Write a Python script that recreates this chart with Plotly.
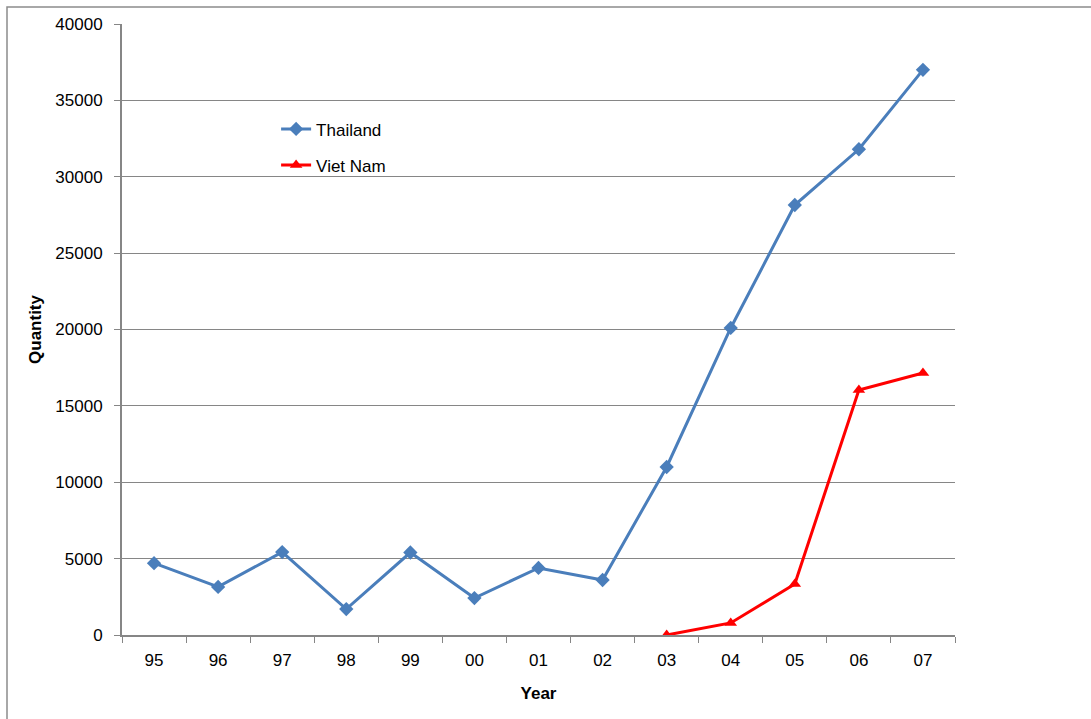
import plotly.graph_objects as go

years = ["95", "96", "97", "98", "99", "00", "01", "02", "03", "04", "05", "06", "07"]
thailand = [4700, 3150, 5430, 1700, 5400, 2420, 4390, 3600, 11000, 20100, 28150, 31800, 37000]
vietnam_years = ["03", "04", "05", "06", "07"]
vietnam = [0, 790, 3340, 16040, 17150]

FONT = "Liberation Sans, Arial, sans-serif"
AXIS_GRAY = "#868686"

fig = go.Figure()
fig.add_trace(go.Scatter(
    x=years, y=thailand, name="Thailand", mode="lines+markers",
    line=dict(color="#4A7EBB", width=3),
    marker=dict(symbol="diamond", size=11, color="#4A7EBB"),
    legendgroup="th",
))
fig.add_trace(go.Scatter(
    x=vietnam_years, y=vietnam, name="Viet Nam", mode="lines+markers",
    line=dict(color="#FF0000", width=3),
    marker=dict(symbol="triangle-up", size=11, color="#FF0000"),
    legendgroup="vn",
))

fig.update_layout(
    width=1091, height=719,
    margin=dict(l=122, r=136, t=24, b=84),
    paper_bgcolor="white", plot_bgcolor="white",
    font=dict(family=FONT, size=17, color="black"),
    showlegend=True,
    legend=dict(
        x=0.185, y=0.857, xanchor="left", yanchor="top",
        bgcolor="rgba(0,0,0,0)", font=dict(size=17),
        tracegroupgap=11,
    ),
    xaxis=dict(
        type="category", categoryorder="array", categoryarray=years,
        range=[-0.5, 12.5],
        showline=True, linecolor=AXIS_GRAY, linewidth=2,
        ticks="outside", tickson="boundaries", ticklen=6, tickcolor=AXIS_GRAY,
        tickfont=dict(size=17),
        showgrid=False, zeroline=False,
        title=dict(text="<b>Year</b>", font=dict(size=17), standoff=18),
        ticklabelstandoff=9,
    ),
    yaxis=dict(
        range=[0, 40000], dtick=5000, tickformat="d",
        showline=True, linecolor=AXIS_GRAY, linewidth=2,
        ticks="outside", ticklen=6, tickcolor=AXIS_GRAY,
        tickfont=dict(size=17),
        ticklabelstandoff=8,
        showgrid=True, gridcolor=AXIS_GRAY, gridwidth=1,
        zeroline=False,
        title=dict(text="<b>Quantity</b>", font=dict(size=17), standoff=9),
    ),
    shapes=[dict(
        type="rect", xref="paper", yref="paper",
        x0=(7 - 122) / 833, x1=2.0, y0=-1.0, y1=(635 - 7) / 611,
        line=dict(color="#8C8C8C", width=1.5), fillcolor="rgba(0,0,0,0)",
        layer="below",
    )],
)

fig.write_html("out.html")
